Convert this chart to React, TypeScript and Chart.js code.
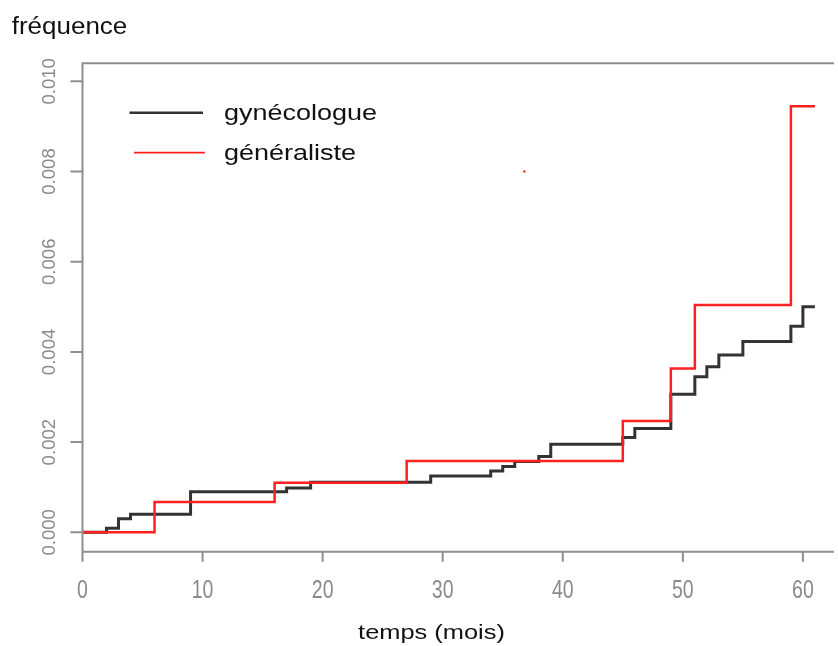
import React, { useEffect, useRef } from "react";
import { Chart, registerables } from "chart.js";

Chart.register(...registerables);

// ---- data ----
const gynecoMonths = [0, 2, 3, 4, 9, 17, 19, 29, 34, 35, 36, 38, 39, 45, 46, 49, 51, 52, 53, 55, 59, 60, 61];
const gynecoFreq = [0, 0.00009, 0.0003, 0.0004, 0.0009, 0.00098, 0.00111, 0.00125, 0.00136, 0.00146, 0.00157, 0.00168, 0.00195, 0.0021, 0.0023, 0.00306, 0.00345, 0.00367, 0.00393, 0.00423, 0.00457, 0.005, 0.005];
const generalMonths = [0, 6, 16, 27, 45, 49, 51, 59, 61];
const generalFreq = [0, 0.00067, 0.0011, 0.00158, 0.00247, 0.00363, 0.00504, 0.00945, 0.00945];
const strayMonths = [36.8];
const strayFreq = [0.008];
const seriesLabels = ["gynécologue", "généraliste"];
const seriesColors = ["#333333", "#ff2020"];
const xTicks = [0, 10, 20, 30, 40, 50, 60];
const yTicks = [0, 0.002, 0.004, 0.006, 0.008, 0.01];
const xTitle = "temps (mois)";
const yTitle = "fréquence";

const FONT = "'Liberation Sans', Arial, Helvetica, sans-serif";

function txt(ctx: CanvasRenderingContext2D, text: string, x: number, y: number, size: number, color: string, sx: number, align: CanvasTextAlign) {
  ctx.save();
  ctx.font = `${size}px ${FONT}`;
  ctx.fillStyle = color;
  ctx.textBaseline = "alphabetic";
  ctx.textAlign = align;
  ctx.translate(x, y);
  ctx.scale(sx, 1);
  ctx.fillText(text, 0, 0);
  ctx.restore();
}

const rAxesPlugin = {
  id: "rAxes",
  afterDraw(chart: any) {
    const ctx: CanvasRenderingContext2D = chart.ctx;
    const { left, top, right, bottom } = chart.chartArea;
    const xs = chart.scales.x;
    const ys = chart.scales.y;
    ctx.save();
    // box / axes
    ctx.strokeStyle = "#8e8e8e";
    ctx.lineWidth = 2;
    ctx.beginPath();
    ctx.moveTo(left, bottom);
    ctx.lineTo(left, top);
    ctx.lineTo(right, top);
    ctx.moveTo(left, bottom);
    ctx.lineTo(right, bottom);
    ctx.stroke();
    // x ticks
    ctx.beginPath();
    xTicks.forEach((v) => {
      const px = xs.getPixelForValue(v);
      ctx.moveTo(px, bottom);
      ctx.lineTo(px, bottom + 10);
    });
    // y ticks
    yTicks.forEach((v) => {
      const py = ys.getPixelForValue(v);
      ctx.moveTo(left, py);
      ctx.lineTo(left - 12, py);
    });
    ctx.stroke();
    ctx.restore();

    xTicks.forEach((v) => {
      const px = xs.getPixelForValue(v);
      txt(ctx, String(v), px, 598, 25, "#8a8a8a", 0.78, "center");
    });
    yTicks.forEach((v) => {
      const py = ys.getPixelForValue(v);
      ctx.save();
      ctx.translate(55, py);
      ctx.rotate(-Math.PI / 2);
      ctx.font = `18.6px ${FONT}`;
      ctx.fillStyle = "#8a8a8a";
      ctx.textAlign = "center";
      ctx.textBaseline = "alphabetic";
      ctx.fillText(v.toFixed(3), 0, 0);
      ctx.restore();
    });

    // titles
    txt(ctx, xTitle, 431.5, 639, 21, "#111111", 1.21, "center");
    txt(ctx, yTitle, 11.7, 34, 23, "#111111", 1.13, "left");

    // legend
    const legendRows = [
      { y: 112.7, x0: 129.5, x1: 203, w: 2.6, text: 120 },
      { y: 152.7, x0: 134, x1: 205, w: 1.8, text: 160 },
    ];
    legendRows.forEach((r, i) => {
      ctx.save();
      ctx.strokeStyle = seriesColors[i];
      ctx.lineWidth = r.w;
      ctx.beginPath();
      ctx.moveTo(r.x0, r.y);
      ctx.lineTo(r.x1, r.y);
      ctx.stroke();
      ctx.restore();
      txt(ctx, seriesLabels[i], 224, r.text, 22.5, "#111111", 1.2, "left");
    });
  },
};

export default function App() {
  const ref = useRef<HTMLCanvasElement | null>(null);
  useEffect(() => {
    if (!ref.current) return;
    const toPts = (xs: number[], ys: number[]) => xs.map((x, i) => ({ x, y: ys[i] }));
    const chart = new Chart(ref.current, {
      type: "line",
      data: {
        datasets: [
          {
            label: seriesLabels[0],
            data: toPts(gynecoMonths, gynecoFreq),
            borderColor: seriesColors[0],
            borderWidth: 3,
            stepped: "before",
            pointRadius: 0,
            fill: false,
            order: 2,
          },
          {
            label: seriesLabels[1],
            data: toPts(generalMonths, generalFreq),
            borderColor: seriesColors[1],
            borderWidth: 2.5,
            stepped: "before",
            pointRadius: 0,
            fill: false,
            order: 1,
          },
          {
            type: "scatter",
            label: "",
            data: toPts(strayMonths, strayFreq),
            backgroundColor: "#ff2020",
            borderWidth: 0,
            pointRadius: 1.2,
            showLine: false,
            order: 0,
          } as any,
        ],
      },
      options: {
        responsive: false,
        animation: false,
        devicePixelRatio: 1,
        layout: { padding: { left: 82.5, top: 63.3, right: 0, bottom: 94.3 } },
        scales: {
          x: { type: "linear", min: 0, max: 62.59, display: false },
          y: { type: "linear", min: -0.00043, max: 0.0104, display: false },
        },
        plugins: {
          legend: { display: false },
          tooltip: { enabled: false },
          title: { display: false },
        },
      },
      plugins: [rAxesPlugin],
    } as any);
    return () => chart.destroy();
  }, []);
  return (
    <div style={{ position: "absolute", left: 0, top: 0, width: 838, height: 646, background: "#fff" }}>
      <canvas ref={ref} width={838} height={646} style={{ width: 838, height: 646 }} />
    </div>
  );
}
